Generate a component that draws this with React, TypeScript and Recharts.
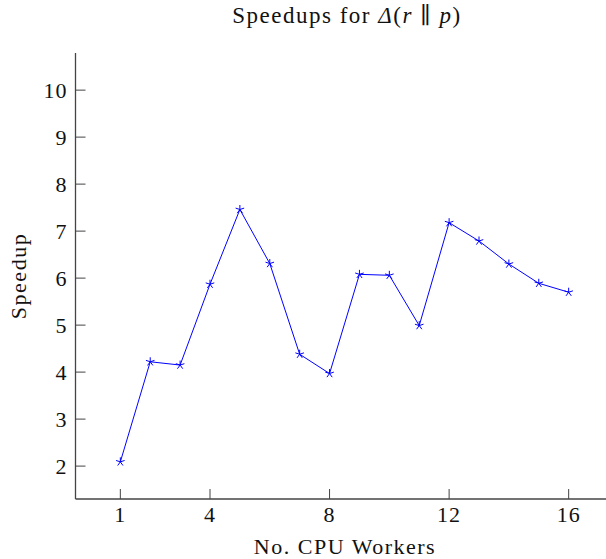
import React from "react";
import { Line, LineChart, XAxis, YAxis } from "recharts";

// data
const workers = [1, 2, 3, 4, 5, 6, 7, 8, 9, 10, 11, 12, 13, 14, 15, 16];
const speedups = [2.09, 4.22, 4.15, 5.87, 7.46, 6.31, 4.38, 3.97, 6.08, 6.06, 4.99, 7.18, 6.79, 6.3, 5.89, 5.7];
const xTicks = [1, 4, 8, 12, 16];
const yTicks = [2, 3, 4, 5, 6, 7, 8, 9, 10];

const data = workers.map((w, i) => ({ workers: w, speedup: speedups[i] }));

const FONT = "'Liberation Serif', 'DejaVu Serif', serif";
const AXIS = "#444";
const TICK_LEN = 10;

type TickProps = { x?: number; y?: number; payload?: { value: number } };

const BottomTick = ({ x = 0, y = 0, payload }: TickProps) => (
  <g>
    <line x1={x} y1={y} x2={x} y2={y - TICK_LEN} stroke={AXIS} strokeWidth={1} />
    <text x={x} y={y + 23} textAnchor="middle" fontSize={22} letterSpacing={1} fontFamily={FONT} fill="#111">
      {payload?.value}
    </text>
  </g>
);

const TopTick = ({ x = 0, y = 0 }: TickProps) => (
  <line x1={x} y1={y} x2={x} y2={y + TICK_LEN} stroke={AXIS} strokeWidth={1} />
);

const LeftTick = ({ x = 0, y = 0, payload }: TickProps) => (
  <g>
    <line x1={x} y1={y} x2={x + TICK_LEN} y2={y} stroke={AXIS} strokeWidth={1} />
    <text x={x - 8} y={y + 7.5} textAnchor="end" fontSize={22} letterSpacing={1} fontFamily={FONT} fill="#111">
      {payload?.value}
    </text>
  </g>
);

const RightTick = ({ x = 0, y = 0 }: TickProps) => (
  <line x1={x} y1={y} x2={x - TICK_LEN} y2={y} stroke={AXIS} strokeWidth={1} />
);

// pgfplots "star" mark
const StarDot = ({ cx, cy }: { cx?: number; cy?: number }) => {
  if (cx == null || cy == null) return null;
  const r = 4.5;
  return (
    <g>
      {[0, 1, 2, 3, 4].map((k) => {
        const a = ((90 + k * 72) * Math.PI) / 180;
        return (
          <line key={k} x1={cx} y1={cy} x2={cx + r * Math.cos(a)} y2={cy - r * Math.sin(a)} stroke="#0000ff" strokeWidth={1} />
        );
      })}
    </g>
  );
};

export default function App() {
  return (
    <div style={{ position: "absolute", left: 0, top: 0, width: 606, height: 559, overflow: "hidden", background: "#fff" }}>
      <LineChart width={620} height={559} data={data} margin={{ top: 53, right: 6.5, bottom: 0, left: 0 }}>
        <XAxis
          xAxisId="bottom"
          dataKey="workers"
          type="number"
          domain={[-0.5, 17.5]}
          ticks={xTicks}
          allowDataOverflow
          height={60}
          stroke={AXIS}
          strokeWidth={1.3}
          tickLine={false}
          tickSize={0}
          tickMargin={0}
          tick={<BottomTick />}
          interval={0}
        />
        <XAxis
          xAxisId="top"
          orientation="top"
          dataKey="workers"
          type="number"
          domain={[-0.5, 17.5]}
          ticks={xTicks}
          allowDataOverflow
          height={0}
          stroke={AXIS}
          strokeWidth={1.3}
          tickLine={false}
          tickSize={0}
          tickMargin={0}
          tick={<TopTick />}
          interval={0}
        />
        <YAxis
          yAxisId="left"
          type="number"
          domain={[1.3, 10.79]}
          ticks={yTicks}
          allowDataOverflow
          width={75.5}
          stroke={AXIS}
          strokeWidth={1.3}
          tickLine={false}
          tickSize={0}
          tickMargin={0}
          tick={<LeftTick />}
          interval={0}
        />
        <YAxis
          yAxisId="right"
          orientation="right"
          type="number"
          domain={[1.3, 10.79]}
          ticks={yTicks}
          allowDataOverflow
          width={0}
          stroke={AXIS}
          strokeWidth={1.3}
          tickLine={false}
          tickSize={0}
          tickMargin={0}
          tick={<RightTick />}
          interval={0}
        />
        <Line
          xAxisId="bottom"
          yAxisId="left"
          dataKey="speedup"
          type="linear"
          stroke="#0000ff"
          strokeWidth={1}
          dot={<StarDot />}
          activeDot={false}
          isAnimationActive={false}
        />
      </LineChart>
      <svg width={606} height={559} style={{ position: "absolute", left: 0, top: 0, pointerEvents: "none" }}>
        <text x={347} y={23} textAnchor="middle" fontSize={23} letterSpacing={1.5} fontFamily={FONT} fill="#111">
          <tspan>Speedups for </tspan>
          <tspan fontStyle="italic">Δ</tspan>
          <tspan>(</tspan>
          <tspan fontStyle="italic">r</tspan>
          <tspan> ∥ </tspan>
          <tspan fontStyle="italic">p</tspan>
          <tspan>)</tspan>
        </text>
        <text x={345} y={554} textAnchor="middle" fontSize={22} letterSpacing={1.5} fontFamily={FONT} fill="#111">
          No. CPU Workers
        </text>
        <text
          x={0}
          y={0}
          transform="translate(26,276) rotate(-90)"
          textAnchor="middle"
          fontSize={22}
          letterSpacing={1.5}
          fontFamily={FONT}
          fill="#111"
        >
          Speedup
        </text>
      </svg>
    </div>
  );
}
